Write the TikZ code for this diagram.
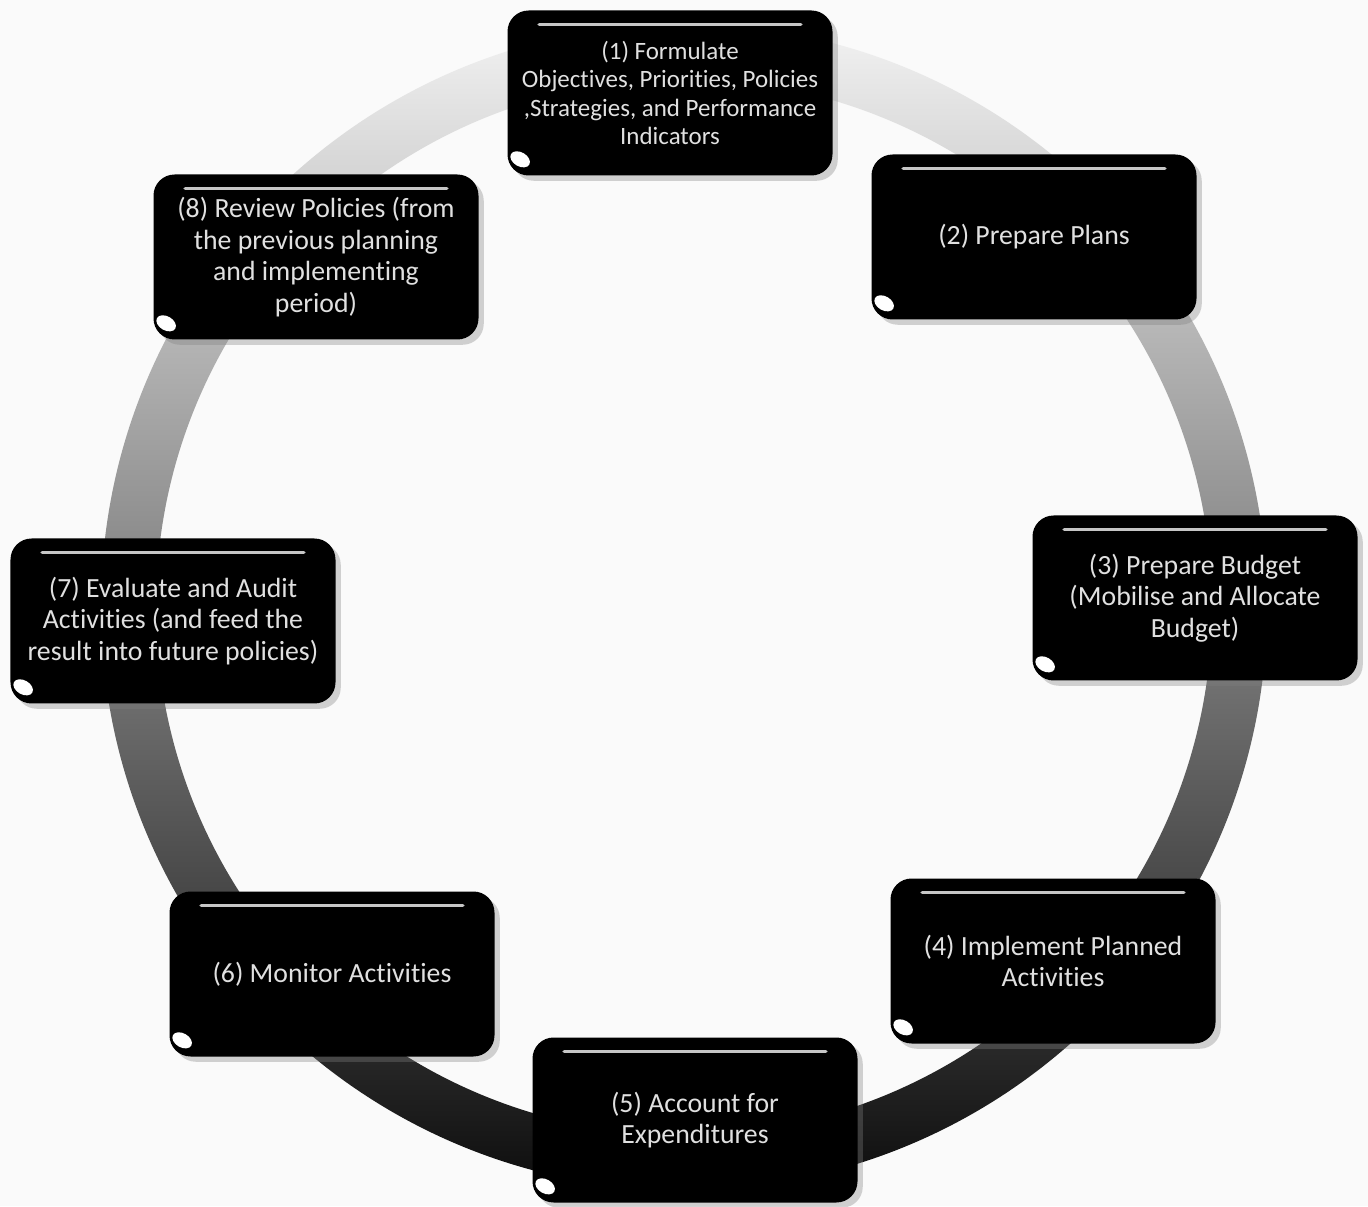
\documentclass[tikz,border=0pt]{standalone}
\usepackage{fontspec}
\setmainfont{Carlito}[Ligatures=CommonOff]
\usetikzlibrary{shadows}

\begin{document}
\begin{tikzpicture}[
    stage/.style={rectangle, rounded corners=6pt, fill=black, text=white!88!black, minimum width=3.25cm, minimum height=1.65cm, font=\fontsize{7.9}{9}\selectfont, align=center,
      drop shadow={opacity=0.35, shadow xshift=1.5pt, shadow yshift=-1.5pt},
      path picture={
        \draw[gray!45, line width=1pt, line cap=round] ([xshift=9pt,yshift=-4pt]path picture bounding box.north west) -- ([xshift=-9pt,yshift=-4pt]path picture bounding box.north east);
        \fill[white] ([xshift=3.6pt,yshift=4.6pt]path picture bounding box.south west) ellipse [x radius=3pt, y radius=2pt, rotate=-30];
      }},
    ring/.style={top color=black!5, middle color=black!55, bottom color=black!95, even odd rule}
]
\fill[gray!4] (0,0) rectangle (13.68,12.06);
\useasboundingbox (0,0) rectangle (13.68,12.06);

% ring behind the stages
\coordinate (ctr) at (6.84,5.99);
\shade[ring] (ctr) circle (5.83) (ctr) circle (5.28);

\node[stage, font=\fontsize{7.1}{8.1}\selectfont] (s1) at (6.70,11.13) {(1) Formulate\\Objectives, Priorities, Policies\\,Strategies, and Performance\\Indicators};
\node[stage] (s2) at (10.34,9.69) {(2) Prepare Plans};
\node[stage] (s3) at (11.95,6.08) {(3) Prepare Budget\\(Mobilise and Allocate\\Budget)};
\node[stage] (s4) at (10.53,2.45) {(4) Implement Planned\\Activities};
\node[stage] (s5) at (6.95,0.86) {(5) Account for\\Expenditures};
\node[stage] (s6) at (3.32,2.32) {(6) Monitor Activities};
\node[stage] (s7) at (1.73,5.85) {(7) Evaluate and Audit\\Activities (and feed the\\result into future policies)};
\node[stage] (s8) at (3.16,9.49) {(8) Review Policies (from\\the previous planning\\and implementing\\period)};
\end{tikzpicture}
\end{document}
